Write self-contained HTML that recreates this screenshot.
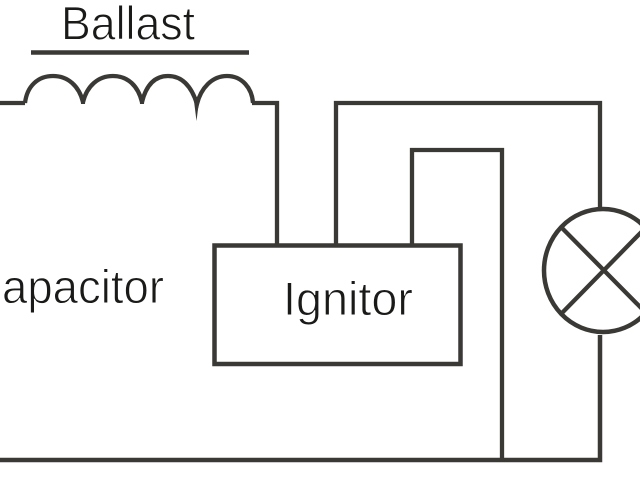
<!DOCTYPE html>
<html>
<head>
<meta charset="utf-8">
<style>
html,body{margin:0;padding:0;background:#fff;width:640px;height:480px;overflow:hidden}
svg{display:block}
text{font-family:"Liberation Sans",sans-serif;font-size:47px;fill:#1a1a18;stroke:#fff;stroke-width:.9px;paint-order:normal}
</style>
</head>
<body>
<svg width="640" height="480" viewBox="0 0 640 480" xmlns="http://www.w3.org/2000/svg">
<rect width="640" height="480" fill="#fff"/>
<g fill="none" stroke="#3a3936" stroke-width="4.300">
<path d="M31 52.500H249" stroke-width="4.500"/>
<path d="M0 103H25M25 103C27 86 38 76 53 76C68 76 79 86 83 102C87 86 98 76 113 76C128 76 138 86 142 102C146 86 154 76 168 76C183 76 192 88 197 104C201 88 212 76 227 76C242 76 252 88 253 103M252 103H277V245"/>
<rect x="214.500" y="245.500" width="246" height="118.500" stroke-width="4.500"/>
<path d="M336 245V103H600V208"/>
<path d="M412 245V150H502V460"/>
<path d="M0 460H600V335" stroke-width="4.500"/>
<ellipse cx="603" cy="270.500" rx="59" ry="61.500" stroke-width="4.500"/>
<path d="M561 227L660 327M561 314L660 213"/>
</g>
<path d="M193.500 97L196.500 121L199.500 97Z" fill="#3a3936"/>
<path d="M80.500 96L81 104H85L85.500 96ZM139.500 96L140 104H144L144.500 96Z" fill="#3a3936"/>
<text x="61" y="39.500" textLength="134" lengthAdjust="spacingAndGlyphs">Ballast</text>
<text x="2" y="303" textLength="162" lengthAdjust="spacingAndGlyphs">apacitor</text>
<text x="283" y="315" textLength="130" lengthAdjust="spacingAndGlyphs">Ignitor</text>
</svg>
</body>
</html>
